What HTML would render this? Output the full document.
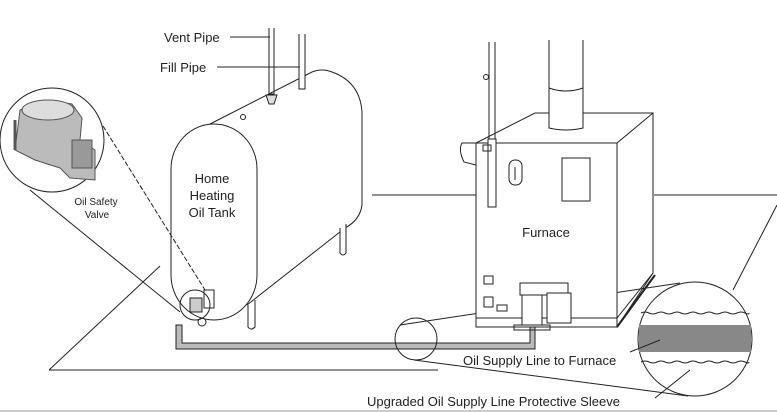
<!DOCTYPE html>
<html><head><meta charset="utf-8"><style>
html,body{margin:0;padding:0;background:#fff;}
svg{display:block;}
text{font-family:"Liberation Sans",sans-serif;fill:#222;}
</style></head><body>
<svg width="777" height="412" viewBox="0 0 777 412" xmlns="http://www.w3.org/2000/svg">
<g fill="none" stroke="#222" stroke-width="1">
<!-- floor -->
<path d="M49 370 L438 370"/>
<path d="M49 370 L160 266"/>
<path d="M372 195 L476 195"/>
<path d="M654 195 L777 195"/>
<path d="M777 205 L733 290"/>
<!-- tank back -->
<path d="M210 124 L312 72 Q322 68 332 72 Q360 82 362 112 L362 205 Q360 220 345 228 L247 305"/>
<circle cx="243" cy="117" r="2.5"/>
<!-- legs -->
<path d="M340 228 L340 253 Q343 257 346 253 L346 224" fill="#fff"/>
<path d="M248 305 L248 327 Q251 331 255 327 L255 300" fill="#fff"/>
<!-- tank front cap -->
<rect x="171" y="124" width="86" height="196" rx="43" ry="45" fill="#fff"/>
<!-- vent and fill pipes -->
<path d="M269 28 L269 94 L274 94 L274 28"/>
<path d="M266 95 L277 95 L274 104 L269 104 Z" fill="#ddd"/>
<path d="M299 34 L299 89 L305 89 L305 34" fill="#fff"/>
<path d="M230 37 L270 37"/>
<path d="M217 67 L300 67"/>
<!-- magnifier left -->
<circle cx="52" cy="140" r="52" fill="#fff"/>
<path d="M103 126 L205 290" stroke-dasharray="5 2"/>
<path d="M30 190 L180 312"/>
<!-- valve at tank -->
<circle cx="195" cy="305" r="15"/>
<rect x="190" y="298" width="12" height="14" fill="#ccc"/>
<rect x="204" y="290" width="10" height="18"/>
<circle cx="202" cy="322" r="4"/>
<!-- pipe -->
<path d="M176 325 L176 349 L535 349 L535 318 L530 318 L530 343 L182 343 L182 325 Z" fill="#bbb"/>
<!-- sleeve magnifiers -->
<circle cx="416" cy="339" r="21"/>
<path d="M400 325 L680 283"/>
<path d="M414 360 L688 396"/>
<circle cx="695" cy="339" r="57" fill="#fff"/>
<rect x="639" y="325" width="112" height="27" fill="#888" stroke="none"/>
<path d="M641 313 Q645 311 649 313 T657 313 T665 313 T673 313 T681 313 T689 313 T697 313 T705 313 T713 313 T721 313 T729 313 T737 313 T745 313 T749 313"/>
<path d="M641 362 Q645 360 649 362 T657 362 T665 362 T673 362 T681 362 T689 362 T697 362 T705 362 T713 362 T721 362 T729 362 T737 362 T745 362 T749 362"/>
<path d="M630 352 L660 340"/>
<path d="M655 398 L690 370"/>
<!-- furnace -->
<path d="M476 143 L535 113 L653 113 L653 273 L617 327"/>
<path d="M617 143 L653 113"/>
<rect x="476" y="143" width="141" height="184" fill="#fff"/>
<path d="M476 318 L617 318 L653 273"/>
<path d="M617 327 L655 275" stroke-width="2"/>
<path d="M549 40 L549 128 Q566 132 583 128 L583 40" fill="#fff"/>
<path d="M549 88 Q566 94 583 88"/>
<path d="M489 42 L489 142 M495 42 L495 142"/>
<rect x="488" y="139" width="8" height="68" fill="#fff"/>
<circle cx="486" cy="77" r="2.5"/>
<path d="M462 143 Q458 150 464 162 L476 165 L476 143 Z"/>
<rect x="483" y="145" width="8" height="6"/>
<rect x="509" y="160" width="13" height="25" rx="6"/>
<path d="M515 167 L515 180"/>
<rect x="562" y="158" width="28" height="43"/>
<rect x="484" y="276" width="9" height="8"/>
<rect x="484" y="297" width="9" height="10"/>
<rect x="497" y="305" width="10" height="6"/>
<rect x="520" y="283" width="48" height="12" fill="#fff"/>
<rect x="522" y="295" width="20" height="30" fill="#fff"/>
<rect x="547" y="293" width="24" height="30" fill="#fff"/>
<rect x="514" y="325" width="36" height="5"/>
</g>
<!-- valve photo -->
<g stroke="#555" stroke-width="1">
<path d="M20 110 L45 100 L72 104 L82 118 L80 140 L95 150 L95 180 L70 178 L60 168 L35 160 L15 150 Z" fill="#bbb"/>
<ellipse cx="48" cy="110" rx="26" ry="10" fill="#ddd"/>
<rect x="72" y="140" width="20" height="28" fill="#999"/>
<path d="M15 120 L15 150" stroke-width="3"/>
</g>
<text x="96" y="205" font-size="10" text-anchor="middle">Oil Safety</text>
<text x="97" y="218" font-size="10" text-anchor="middle">Valve</text>
<text x="164" y="42" font-size="13">Vent Pipe</text>
<text x="160" y="72" font-size="13">Fill Pipe</text>
<text x="212" y="183" font-size="13" text-anchor="middle">Home</text>
<text x="212" y="200" font-size="13" text-anchor="middle">Heating</text>
<text x="212" y="217" font-size="13" text-anchor="middle">Oil Tank</text>
<text x="546" y="237" font-size="13" text-anchor="middle">Furnace</text>
<text x="463" y="365" font-size="13">Oil Supply Line to Furnace</text>
<text x="367" y="406" font-size="13">Upgraded Oil Supply Line Protective Sleeve</text>
<path d="M0 411 L777 411" stroke="#999"/>
</svg>
</body></html>
